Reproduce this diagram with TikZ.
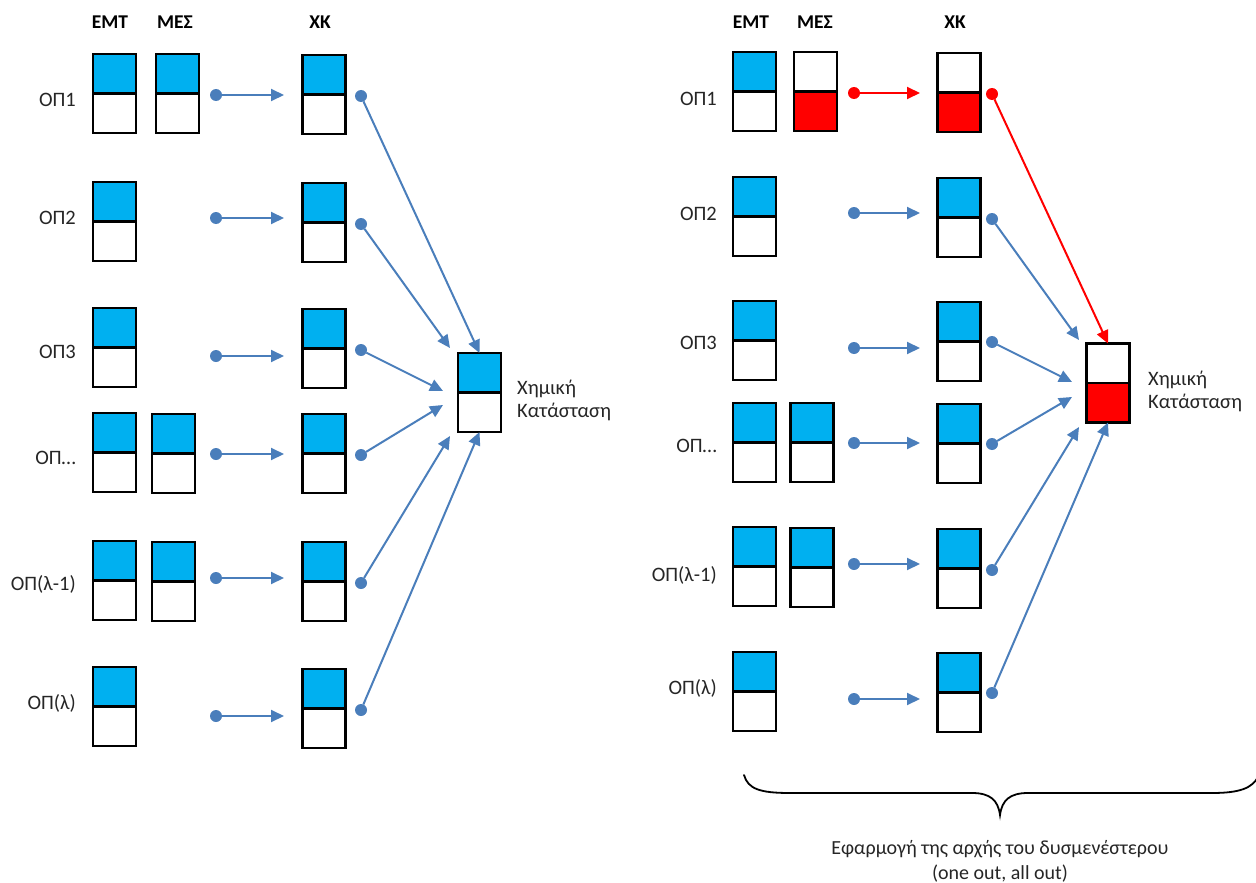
\documentclass[tikz,border=0pt]{standalone}
\usepackage{fontspec}
\setmainfont{Carlito}
\usetikzlibrary{arrows.meta}
\definecolor{cyanf}{RGB}{0,176,240}
\definecolor{linkblue}{RGB}{74,126,187}
\definecolor{txtc}{RGB}{38,38,38}
\definecolor{redf}{RGB}{255,0,0}
\tikzset{
  cell/.style 2 args={draw=black, line width=2.2pt, minimum width=43pt, minimum height=79pt,
    inner sep=0pt, outer sep=0pt,
    path picture={
      \fill[#1] (path picture bounding box.north west) rectangle (path picture bounding box.east);
      \fill[#2] (path picture bounding box.west) rectangle (path picture bounding box.south east);
      \draw[line width=2.2pt] (path picture bounding box.west) -- (path picture bounding box.east);}},
  lbl/.style={font=\fontsize{20.5}{23}\selectfont, text=txtc, inner sep=0pt},
  hdr/.style={font=\fontsize{19.5}{23}\selectfont\bfseries, text=black, inner sep=0pt},
  knob/.style={circle, fill=#1, minimum size=12pt, inner sep=0pt, outer sep=0pt},
  arrowline/.style={draw=#1, line width=2pt, -{Triangle[length=13pt,width=12pt]}},
}
\begin{document}
\begin{tikzpicture}[x=1pt,y=-1pt]
\useasboundingbox (0,0) rectangle (1256,883);
% ---------------- headers
\node[hdr] (lh1) at (110,22) {ΕΜΤ};
\node[hdr] (lh2) at (175,22) {ΜΕΣ};
\node[hdr] (lh3) at (320,22) {ΧΚ};
\node[hdr] (rh1) at (751,22) {ΕΜΤ};
\node[hdr] (rh2) at (815,22) {ΜΕΣ};
\node[hdr] (rh3) at (955,22) {ΧΚ};
% ---------------- left central state
\node[cell={cyanf}{white}] (lC) at (479.5,392.5) {};
\node[lbl, anchor=west, align=left] (lCt) at (517,400.5) {Χημική\\Κατάσταση};
\coordinate (lEnd1) at (lC.north);
\coordinate (lEnd2) at (450,348);
\coordinate (lEnd3) at (443,391);
\coordinate (lEnd4) at (443,405);
\coordinate (lEnd5) at (450,436);
\coordinate (lEnd6) at (lC.south);
% ---------------- left rows
\foreach \i/\t/\ly/\et/\dy/\xt/\oy in
  {1/ΟΠ1/100/54/95/55/96, 2/ΟΠ2/218/182/218/183/224, 3/ΟΠ3/352/308/356/309/350,
   4/ΟΠ…/458/413/454/414/455, 5/ΟΠ(λ-1)/584/541/578/542/583, 6/ΟΠ(λ)/703/667/716/669/710}{
  \node[lbl, anchor=east] (lL\i) at (76,\ly) {\t};
  \node[cell={cyanf}{white}] (lE\i) at (114.5,{\et+39.5}) {};
  \node[cell={cyanf}{white}] (lX\i) at (324,{\xt+39.5}) {};
  \node[knob=linkblue] (lD\i) at (216,\dy) {};
  \coordinate (lT\i) at (284,\dy);
  \draw[arrowline=linkblue] (lD\i) -- (lT\i);
  \node[knob=linkblue] (lO\i) at (361,\oy) {};
  \draw[arrowline=linkblue] (lO\i) -- (lEnd\i);
}
\node[cell={cyanf}{white}] (lM1) at (177.5,93.5) {};
\node[cell={cyanf}{white}] (lM4) at (173.5,453.5) {};
\node[cell={cyanf}{white}] (lM5) at (173.5,581.5) {};
% ---------------- right central state
\node[cell={white}{redf}] (rC) at (1108,383) {};
\node[lbl, anchor=west, align=left] (rCt) at (1148,391) {Χημική\\Κατάσταση};
\coordinate (rEnd2) at (1079,340);
\coordinate (rEnd3) at (1072,382);
\coordinate (rEnd4) at (1072,397);
\coordinate (rEnd5) at (1079,427);
\coordinate (rEnd6) at (rC.south);
% ---------------- right rows
\foreach \i/\t/\ly/\et/\xt in
  {1/ΟΠ1/99/52/53, 2/ΟΠ2/214/177/178, 3/ΟΠ3/343/301/302,
   4/ΟΠ…/446/403/404, 5/ΟΠ(λ-1)/575/527/529, 6/ΟΠ(λ)/688/652/653}{
  \node[lbl, anchor=east] (rL\i) at (717,\ly) {\t};
  \node[cell={cyanf}{white}] (rE\i) at (754.5,{\et+39.5}) {};
}
\foreach \i/\dy/\xt/\oy in
  {2/213/178/219, 3/348/302/342, 4/443/404/444, 5/564/529/570, 6/699/653/693}{
  \node[cell={cyanf}{white}] (rX\i) at (959,{\xt+39.5}) {};
  \node[knob=linkblue] (rD\i) at (854,\dy) {};
  \coordinate (rT\i) at (920,\dy);
  \draw[arrowline=linkblue] (rD\i) -- (rT\i);
  \node[knob=linkblue] (rO\i) at (992,\oy) {};
  \draw[arrowline=linkblue] (rO\i) -- (rEnd\i);
}
% red row 1
\node[cell={white}{redf}] (rM1) at (815.5,91.5) {};
\node[cell={white}{redf}] (rX1) at (959,92.5) {};
\node[knob=redf] (rD1) at (854,93) {};
\coordinate (rT1) at (920,93);
\draw[arrowline=redf] (rD1) -- (rT1);
\node[knob=redf] (rO1) at (992,94) {};
\draw[arrowline=redf] (rO1) -- (rC.north);
\node[cell={cyanf}{white}] (rM4) at (812,442.5) {};
\node[cell={cyanf}{white}] (rM5) at (812,567.5) {};
% ---------------- brace and caption
\coordinate (bL) at (744,775);
\coordinate (bTip) at (1000,815);
\coordinate (bR) at (1258,777);
\draw[line width=1.8pt, black, line cap=round]
  (bL) .. controls (748,789) and (760,793) .. (790,793) -- (972,793)
  .. controls (990,793) and (998,800) .. (bTip)
  .. controls (1002,800) and (1010,793) .. (1028,793) -- (1212,793)
  .. controls (1240,793) and (1252,788) .. (bR);
\node[lbl, align=center, font=\fontsize{20}{25}\selectfont] (cap) at (1000,861)
  {Εφαρμογή της αρχής του δυσμενέστερου\\(one out, all out)};
\end{tikzpicture}
\end{document}
